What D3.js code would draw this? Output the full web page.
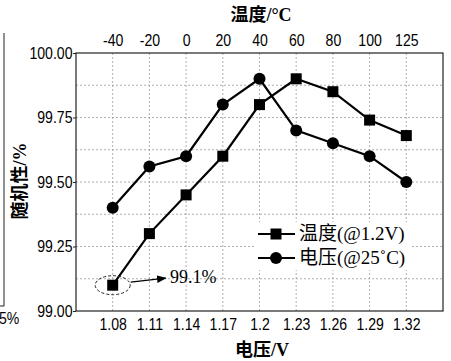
<!DOCTYPE html>
<html>
<head>
<meta charset="utf-8">
<script src="https://cdn.jsdelivr.net/npm/d3@7"></script>
<style>
  body { margin: 0; background: #fff; }
  svg { display: block; }
</style>
</head>
<body>
<div class="canvas"></div>
<script>
// data
const voltages = ["1.08", "1.11", "1.14", "1.17", "1.2", "1.23", "1.26", "1.29", "1.32"];
const temps = ["-40", "-20", "0", "20", "40", "60", "80", "100", "125"];
const tempSeries = [99.10, 99.30, 99.45, 99.60, 99.80, 99.90, 99.85, 99.74, 99.68];
const voltSeries = [99.40, 99.56, 99.60, 99.80, 99.90, 99.70, 99.65, 99.60, 99.50];
const yTicks = [99.0, 99.25, 99.5, 99.75, 100.0];
const yGrid = [99.125, 99.25, 99.375, 99.5, 99.625, 99.75, 99.875];

const dims = { width: 451, height: 361 };
const plot = { left: 76, right: 443, top: 53, bottom: 311 };

const sansFont = "'Liberation Sans', Arial, sans-serif";
const serifFont = "'Liberation Serif', 'Times New Roman', 'Noto Sans CJK SC', serif";

const svg = d3
  .select(".canvas")
  .append("svg")
  .attr("width", dims.width)
  .attr("height", dims.height);

const x = d3
  .scalePoint()
  .domain(d3.range(voltages.length))
  .range([plot.left, plot.right])
  .padding(1);

const y = d3.scaleLinear().domain([99, 100]).range([plot.bottom, plot.top]);

// leftover edge of the neighbouring figure
svg.append("line")
  .attr("x1", 4).attr("x2", 4)
  .attr("y1", 33).attr("y2", 306)
  .attr("stroke", "#222").attr("stroke-width", 1);
svg.append("line")
  .attr("x1", 0).attr("x2", 4)
  .attr("y1", 306).attr("y2", 306)
  .attr("stroke", "#222").attr("stroke-width", 1);
svg.append("text")
  .attr("transform", "translate(-1, 324) scale(0.88, 1)")
  .attr("font-family", sansFont).attr("font-size", 16)
  .text("5%");

// grid
const grid = svg.append("g")
  .attr("stroke", "#9a9a9a")
  .attr("stroke-width", 0.8)
  .attr("stroke-dasharray", "2,2");

grid.selectAll(".gx")
  .data(d3.range(voltages.length))
  .join("line")
  .attr("x1", (d) => x(d)).attr("x2", (d) => x(d))
  .attr("y1", plot.top).attr("y2", plot.bottom);

grid.selectAll(".gy")
  .data(yGrid)
  .join("line")
  .attr("x1", plot.left).attr("x2", plot.right)
  .attr("y1", (d) => y(d)).attr("y2", (d) => y(d));

// axes
const bottomAxis = svg.append("g")
  .attr("transform", `translate(0, ${plot.bottom})`)
  .call(d3.axisBottom(x).tickSize(0).tickPadding(8).tickFormat((i) => voltages[i]));

const topAxis = svg.append("g")
  .attr("transform", `translate(0, ${plot.top})`)
  .call(d3.axisTop(x).tickSize(0).tickPadding(7).tickFormat((i) => temps[i]));

const leftAxis = svg.append("g")
  .attr("transform", `translate(${plot.left}, 0)`)
  .call(d3.axisLeft(y).tickValues(yTicks).tickSize(3).tickPadding(1).tickFormat(d3.format(".2f")));

[bottomAxis, topAxis, leftAxis].forEach((g) => {
  g.select(".domain").remove();
  g.selectAll("text")
    .attr("font-family", sansFont)
    .attr("font-size", 16)
    .attr("fill", "#000")
    .attr("transform", "scale(0.88, 1)");
  g.selectAll("line").attr("stroke", "#222");
});

svg.append("rect")
  .attr("x", plot.left).attr("y", plot.top)
  .attr("width", plot.right - plot.left)
  .attr("height", plot.bottom - plot.top)
  .attr("fill", "none")
  .attr("stroke", "#222")
  .attr("stroke-width", 1.2);

// titles
svg.append("text")
  .attr("x", 261).attr("y", 21)
  .attr("text-anchor", "middle")
  .attr("font-family", serifFont).attr("font-size", 18).attr("font-weight", 600)
  .text("温度/°C");

svg.append("text")
  .attr("x", 262).attr("y", 356)
  .attr("text-anchor", "middle")
  .attr("font-family", serifFont).attr("font-size", 18).attr("font-weight", 600)
  .text("电压/V");

svg.append("text")
  .attr("transform", "translate(26, 181) rotate(-90)")
  .attr("text-anchor", "middle")
  .attr("font-family", serifFont).attr("font-size", 18).attr("font-weight", 600)
  .text("随机性/%");

// series
const line = d3.line().x((d, i) => x(i)).y((d) => y(d));

svg.append("path")
  .datum(tempSeries)
  .attr("d", line)
  .attr("fill", "none")
  .attr("stroke", "#000")
  .attr("stroke-width", 2.2);

svg.append("path")
  .datum(voltSeries)
  .attr("d", line)
  .attr("fill", "none")
  .attr("stroke", "#000")
  .attr("stroke-width", 2.2);

const sq = 11;
svg.selectAll(".sq")
  .data(tempSeries)
  .join("rect")
  .attr("x", (d, i) => x(i) - sq / 2)
  .attr("y", (d) => y(d) - sq / 2)
  .attr("width", sq)
  .attr("height", sq)
  .attr("fill", "#000");

svg.selectAll(".ci")
  .data(voltSeries)
  .join("circle")
  .attr("cx", (d, i) => x(i))
  .attr("cy", (d) => y(d))
  .attr("r", 6)
  .attr("fill", "#000");

// annotation
const markX = x(0), markY = y(tempSeries[0]);
svg.append("ellipse")
  .attr("cx", markX).attr("cy", markY)
  .attr("rx", 17.5).attr("ry", 9.5)
  .attr("fill", "none")
  .attr("stroke", "#222")
  .attr("stroke-width", 1)
  .attr("stroke-dasharray", "3,2");

const defs = svg.append("defs");
defs.append("marker")
  .attr("id", "arrow")
  .attr("viewBox", "0 0 10 10")
  .attr("refX", 9).attr("refY", 5)
  .attr("markerWidth", 8).attr("markerHeight", 8)
  .attr("orient", "auto")
  .append("path")
  .attr("d", "M0,1 L10,5 L0,9 Z")
  .attr("fill", "#000");

svg.append("line")
  .attr("x1", markX + 18).attr("y1", markY - 3)
  .attr("x2", markX + 53).attr("y2", markY - 7)
  .attr("stroke", "#000")
  .attr("stroke-width", 1.2)
  .attr("marker-end", "url(#arrow)");

svg.append("text")
  .attr("x", 170).attr("y", 283)
  .attr("font-family", serifFont).attr("font-size", 18)
  .text("99.1%");

// legend
const legendItems = [
  { name: "温度(@1.2V)", shape: "square" },
  { name: "电压(@25˚C)", shape: "circle" },
];

const legendGroup = svg.append("g").attr("transform", "translate(258, 234)");

legendGroup.append("rect")
  .attr("x", -2).attr("y", -12)
  .attr("width", 154).attr("height", 48)
  .attr("fill", "#fff");

const rows = legendGroup.selectAll(".row")
  .data(legendItems)
  .join("g")
  .attr("transform", (d, i) => `translate(0, ${i * 24})`);

rows.append("line")
  .attr("x1", 0).attr("x2", 37)
  .attr("stroke", "#000").attr("stroke-width", 2.2);

rows.filter((d) => d.shape === "square")
  .append("rect")
  .attr("x", 18 - sq / 2).attr("y", -sq / 2)
  .attr("width", sq).attr("height", sq)
  .attr("fill", "#000");

rows.filter((d) => d.shape === "circle")
  .append("circle")
  .attr("cx", 18).attr("r", 6)
  .attr("fill", "#000");

rows.append("text")
  .attr("x", 41).attr("y", 6)
  .attr("font-family", serifFont).attr("font-size", 19)
  .text((d) => d.name);
</script>
</body>
</html>
